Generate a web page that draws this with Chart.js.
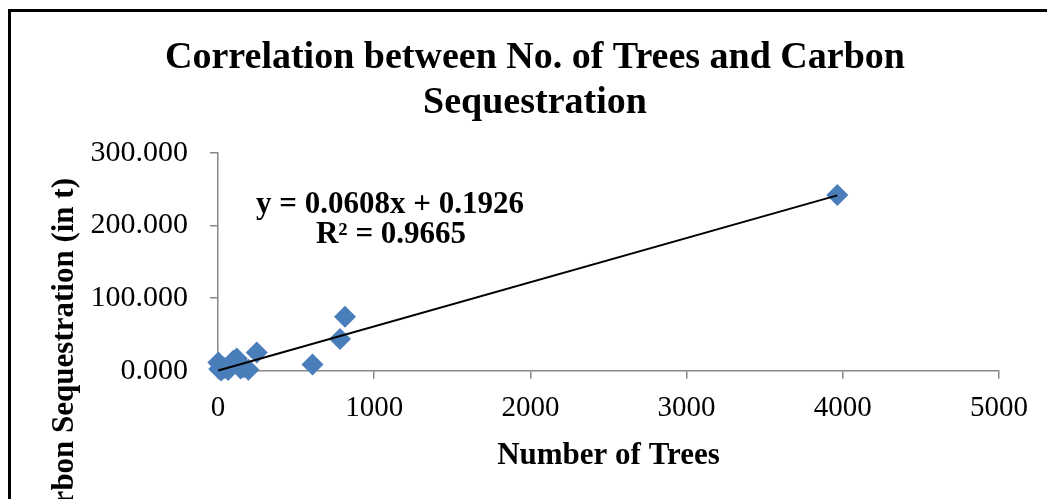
<!DOCTYPE html>
<html>
<head>
<meta charset="utf-8">
<script src="https://cdn.jsdelivr.net/npm/chart.js@4.4.1/dist/chart.umd.min.js"></script>
<style>
  html, body { margin: 0; padding: 0; background: #fff; overflow: hidden; }
  #wrap { position: absolute; left: 0; top: 0; width: 1047px; height: 499px; }
  #frame { position: absolute; left: 8px; top: 9px; width: 1100px; height: 600px;
           border-left: 3px solid #000; border-top: 3px solid #000; }
</style>
</head>
<body>
<div id="frame"></div>
<div id="wrap"><canvas id="chart"></canvas></div>
<script>
// number of trees per site vs carbon sequestration (t)
const trees=[2, 8, 20, 40, 65, 98, 120, 145, 165, 195, 248, 605, 781, 813, 3965];
const carbon=[11.4, 2.5, 0.5, 4.0, 1.0, 13.8, 17.0, 3.0, 5.0, 1.5, 25.0, 8.5, 43.6, 74.5, 241.7];

const slope=0.0608;
const intercept=0.1926;
const rSquared=0.9665;

const xTicks=[0, 1000, 2000, 3000, 4000, 5000];
const yTicks=[0, 100, 200, 300];

const points=trees.map((t, i) => ({x: t, y: carbon[i]}));
const xMin=Math.min(...trees), xMax=Math.max(...trees);
const trend=[{x: xMin, y: slope*xMin+intercept}, {x: xMax, y: slope*xMax+intercept}];

const serif='"Liberation Serif", "Times New Roman", serif';

// equation label and the (clipped) y axis title
const extraText={
    id: "extraText",
    afterDraw(chart) {
        const ctx=chart.ctx;
        ctx.save();
        ctx.fillStyle="#000";
        ctx.font="bold 31px "+serif;
        ctx.textAlign="center";
        ctx.textBaseline="alphabetic";
        ctx.fillText("y = "+slope.toFixed(4)+"x + "+intercept.toFixed(4), 390, 213);
        ctx.fillText("R² = "+rSquared.toFixed(4), 391, 243);

        ctx.translate(73, 178);
        ctx.rotate(-Math.PI/2);
        ctx.textAlign="right";
        ctx.font="bold 31px "+serif;
        ctx.fillText("Carbon Sequestration (in t)", 0, 0);
        ctx.restore();
    }
};

const ctx=document.getElementById("chart").getContext("2d");
const chart=new Chart(ctx, {
    type: "scatter",
    data: {
        datasets: [{
            label: "Trend",
            data: trend,
            showLine: true,
            borderColor: "#000",
            borderWidth: 2,
            pointRadius: 0,
            clip: false,
            order: 0,
        }, {
            label: "Carbon Sequestration",
            data: points,
            pointStyle: "rectRot",
            pointRadius: 11,
            backgroundColor: "#4a7ebb",
            borderColor: "#4a7ebb",
            borderWidth: 0,
            clip: false,
            order: 1,
        }],
    },
    options: {
        responsive: true,
        maintainAspectRatio: false,
        animation: false,
        layout: {
            padding: {left: 71, right: 48, top: 6, bottom: 24},
        },
        plugins: {
            legend: {display: false},
            tooltip: {enabled: false},
            title: {
                display: true,
                text: ["Correlation between No. of Trees and Carbon", "Sequestration"],
                color: "#000",
                font: {family: serif, size: 38, weight: "bold", lineHeight: 1.18},
                padding: {top: 30, bottom: 27},
            },
        },
        scales: {
            x: {
                type: "linear",
                min: 0,
                max: 5000,
                afterBuildTicks: (s) => { s.ticks=xTicks.map(v => ({value: v})); },
                grid: {display: true, drawOnChartArea: false, tickLength: 8, color: "#888", lineWidth: 1.5},
                border: {color: "#888", width: 1.5},
                ticks: {
                    color: "#000",
                    font: {family: serif, size: 29, lineHeight: 1.0},
                    padding: 15,
                    callback: (v) => String(v),
                },
                title: {
                    display: true,
                    text: "Number of Trees",
                    color: "#000",
                    font: {family: serif, size: 31, weight: "bold"},
                    padding: {top: 0, bottom: 0},
                },
            },
            y: {
                type: "linear",
                min: 0,
                max: 300,
                afterBuildTicks: (s) => { s.ticks=yTicks.map(v => ({value: v})); },
                afterFit: (s) => { s.width=147; },
                grid: {display: true, drawOnChartArea: false, tickLength: 8, color: "#888", lineWidth: 1.5},
                border: {color: "#888", width: 1.5},
                ticks: {
                    color: "#000",
                    font: {family: serif, size: 30},
                    padding: 22,
                    callback: (v) => v.toFixed(3),
                },
            },
        },
    },
    plugins: [extraText],
});
</script>
</body>
</html>
